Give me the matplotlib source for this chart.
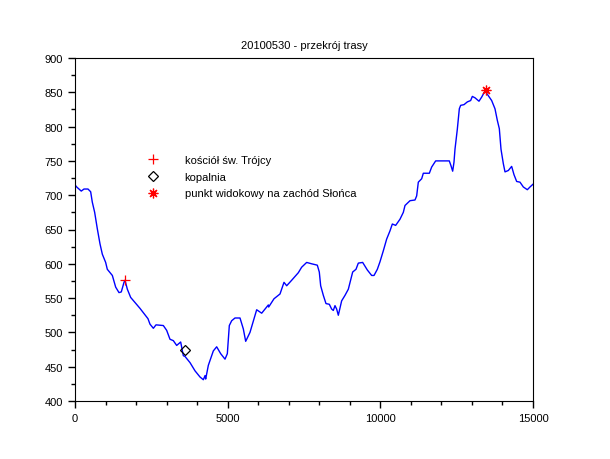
import matplotlib
matplotlib.use("Agg")
import matplotlib.pyplot as plt
from matplotlib.ticker import MultipleLocator

plt.rcParams['font.family'] = ['Liberation Sans', 'DejaVu Sans']

# profile of the route: distance [m] and altitude [m]
dist = [0, 55, 205, 295, 425, 513, 566, 644, 731, 819, 895, 1004, 1058, 1168, 1223,
        1332, 1441, 1516, 1605, 1638, 1714, 1823, 2129, 2390, 2456, 2566, 2653, 2893,
        3002, 3111, 3220, 3330, 3461, 3548, 3602, 3766, 3930, 4094, 4203, 4258, 4280,
        4367, 4530, 4640, 4771, 4913, 4989, 5054, 5131, 5240, 5404, 5513, 5590, 5731,
        5950, 6114, 6332, 6343, 6517, 6714, 6845, 6933, 7096, 7314, 7423, 7587, 7751,
        7936, 8001, 8046, 8133, 8220, 8329, 8406, 8460, 8515, 8570, 8624, 8733, 8843,
        8952, 9094, 9203, 9279, 9421, 9574, 9716, 9793, 9902, 9989, 10098, 10207,
        10316, 10393, 10502, 10644, 10753, 10808, 10972, 11135, 11190, 11244, 11354,
        11408, 11605, 11681, 11812, 12258, 12314, 12369, 12412, 12445, 12521, 12587,
        12631, 12740, 12849, 12958, 13013, 13100, 13231, 13319, 13428, 13537, 13646,
        13755, 13832, 13897, 13952, 14028, 14083, 14192, 14301, 14377, 14465, 14574,
        14683, 14814, 14902, 15000]
alt = [715, 712, 706, 709, 709, 705, 690, 675, 651, 629, 614, 602, 592, 586, 583,
       566, 558, 559, 573, 576, 563, 551, 535, 520, 512, 506, 511, 510,
       503, 490, 488, 481, 486, 466, 465, 456, 444, 435, 431, 437, 432,
       452, 473, 479, 469, 461, 469, 510, 517, 521, 521, 505, 487, 500,
       533, 528, 540, 537, 549, 556, 573, 568, 576, 587, 595, 602, 600,
       598, 588, 568, 554, 542, 541, 534, 532, 539, 534, 525, 546, 554,
       563, 588, 592, 601, 602, 591, 583, 583, 592, 603, 619, 636,
       648, 658, 656, 665, 675, 685, 692, 693, 699, 719, 724,
       732, 732, 741, 750, 750, 743, 735, 748, 767, 796, 826,
       831, 832, 836, 838, 844, 842, 837, 843, 852, 845, 838,
       826, 809, 797, 767, 746, 734, 736, 742, 730, 720, 719,
       712, 708, 712, 716]

# points of interest
poi_labels = ["kościół św. Trójcy", "kopalnia", "punkt widokowy na zachód Słońca"]
poi_x = [1640, 3600, 13450]
poi_y = [576, 475, 853]

fig = plt.figure(figsize=(6.1, 4.6), dpi=100)
ax = fig.add_axes([75/610, 58/460, 458/610, 343/460])

ax.plot(dist, alt, color='#0000ff', linewidth=1.0)
ax.plot(poi_x[0], poi_y[0], '+', color='red', markersize=7, markeredgewidth=0.9,
        linestyle='none', label=poi_labels[0])
ax.plot(poi_x[1], poi_y[1], 'D', markerfacecolor='none', markeredgecolor='black',
        markersize=5, markeredgewidth=0.9, linestyle='none', label=poi_labels[1])
ax.plot(poi_x[2], poi_y[2], marker=(8, 2, 0), color='red', markersize=7,
        markeredgewidth=0.9, linestyle='none', label=poi_labels[2])

ax.set_xlim(0, 15000)
ax.set_ylim(400, 900)
ax.xaxis.set_major_locator(MultipleLocator(5000))
ax.xaxis.set_minor_locator(MultipleLocator(1000))
ax.yaxis.set_major_locator(MultipleLocator(50))
ax.yaxis.set_minor_locator(MultipleLocator(25))
ax.tick_params(which='major', direction='out', length=5, width=1, labelsize=8,
               top=False, right=False)
ax.tick_params(which='minor', direction='out', length=3, width=1,
               top=False, right=False)

ax.set_title("20100530 - przekrój trasy", fontsize=8, pad=7)

ax.legend(loc='upper left', bbox_to_anchor=(0.141, 0.733), frameon=False,
          fontsize=8, handlelength=1.5, handletextpad=2.05, labelspacing=0.6,
          borderpad=0)

fig.savefig("out.png", dpi=100)
